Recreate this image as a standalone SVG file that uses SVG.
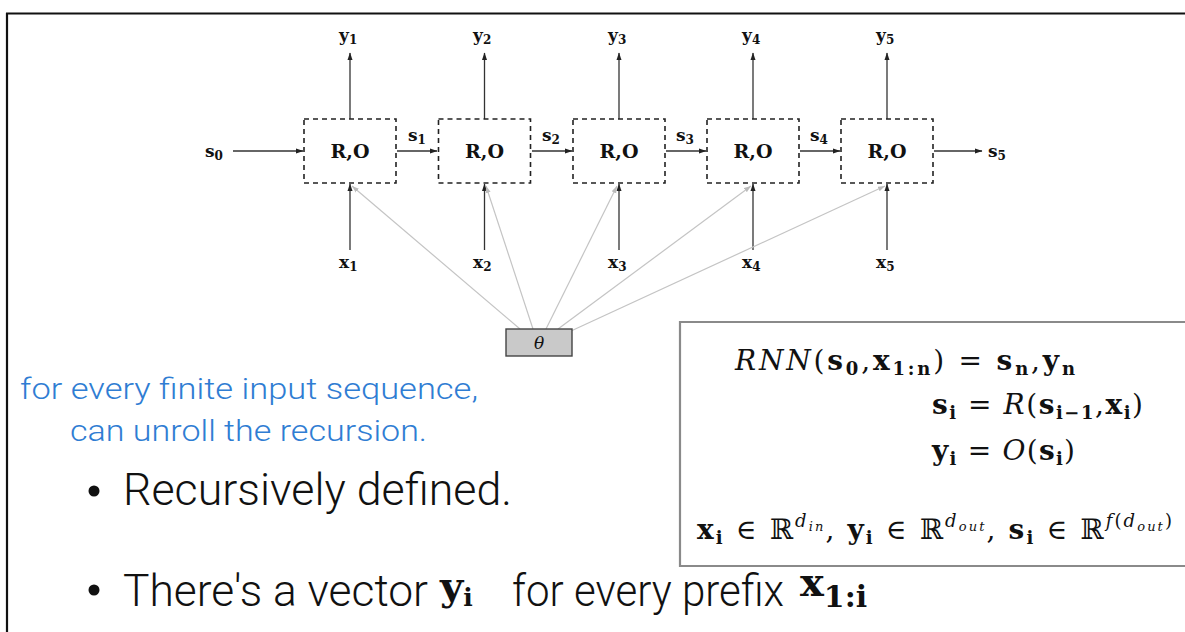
<svg xmlns="http://www.w3.org/2000/svg" width="1185" height="632" viewBox="0 0 1185 632">
<defs>
<marker id="ah" markerWidth="8" markerHeight="6" refX="7" refY="3" orient="auto" markerUnits="userSpaceOnUse">
<path d="M0,0.5 L7.5,3 L0,5.5 z" fill="#222"/>
</marker>
<marker id="ahg" markerWidth="8" markerHeight="6" refX="7" refY="3" orient="auto" markerUnits="userSpaceOnUse">
<path d="M0,0.5 L7,3 L0,5.5 z" fill="#bbb"/>
</marker>
<style>
.node rect.cell{fill:none;stroke:#222;stroke-width:1.6;stroke-dasharray:5,4}
.lbl{font-family:"DejaVu Serif","Liberation Serif",serif;font-weight:bold;fill:#111}
.ro{font-size:19px;text-anchor:middle}
.var{font-size:17px}
.sub{font-size:12px}
.arr{stroke:#333;stroke-width:1.3;fill:none;marker-end:url(#ah)}
.garr{stroke:#c4c4c4;stroke-width:1.2;fill:none;marker-end:url(#ahg)}
.math{font-family:"DejaVu Serif","Liberation Serif",serif;fill:#111}
.b{font-weight:bold}
.it{font-style:italic}
.sans{font-family:Roboto,"Liberation Sans",Arial,sans-serif;font-weight:300}
.blue{fill:#2f7dd3;font-size:30px}
.bul{fill:#111;font-size:44px}
</style>
</defs>
<rect width="1185" height="632" fill="#fff"/>
<!-- outer frame -->
<path d="M6,13.5 H1185 M7,13 V632" stroke="#111" stroke-width="2.2" fill="none"/>

<!-- connectors -->
<g id="connectors">
<line class="arr" x1="233" y1="151" x2="303" y2="151"/>
<line class="arr" x1="397" y1="151" x2="437" y2="151"/>
<line class="arr" x1="532" y1="151" x2="572" y2="151"/>
<line class="arr" x1="666" y1="151" x2="706" y2="151"/>
<line class="arr" x1="800" y1="151" x2="840" y2="151"/>
<line class="arr" x1="934" y1="151" x2="982" y2="151"/>
<line class="arr" x1="350" y1="119" x2="350" y2="53"/>
<line class="arr" x1="484.5" y1="119" x2="484.5" y2="53"/>
<line class="arr" x1="619" y1="119" x2="619" y2="53"/>
<line class="arr" x1="753" y1="119" x2="753" y2="53"/>
<line class="arr" x1="887" y1="119" x2="887" y2="53"/>
<line class="arr" x1="350" y1="250" x2="350" y2="184"/>
<line class="arr" x1="484.5" y1="250" x2="484.5" y2="184"/>
<line class="arr" x1="619" y1="250" x2="619" y2="184"/>
<line class="arr" x1="753" y1="250" x2="753" y2="184"/>
<line class="arr" x1="887" y1="250" x2="887" y2="184"/>
<line class="garr" x1="520" y1="329" x2="352" y2="186"/>
<line class="garr" x1="533" y1="329" x2="486" y2="186"/>
<line class="garr" x1="546" y1="329" x2="617" y2="186"/>
<line class="garr" x1="558" y1="329" x2="751" y2="186"/>
<line class="garr" x1="571" y1="331" x2="885" y2="186"/>
</g>

<!-- nodes -->
<g id="node1" class="node"><rect class="cell" x="304" y="119" width="92" height="64"/><text class="lbl ro" x="350" y="158">R,O</text></g>
<g id="node2" class="node"><rect class="cell" x="438.5" y="119" width="92" height="64"/><text class="lbl ro" x="484.5" y="158">R,O</text></g>
<g id="node3" class="node"><rect class="cell" x="573" y="119" width="92" height="64"/><text class="lbl ro" x="619" y="158">R,O</text></g>
<g id="node4" class="node"><rect class="cell" x="707" y="119" width="92" height="64"/><text class="lbl ro" x="753" y="158">R,O</text></g>
<g id="node5" class="node"><rect class="cell" x="841" y="119" width="92" height="64"/><text class="lbl ro" x="887" y="158">R,O</text></g>

<g id="theta"><rect x="506" y="329" width="66" height="27" fill="#c9c9c9" stroke="#444" stroke-width="1.4"/><text class="math it" x="539" y="349" font-size="17" text-anchor="middle">θ</text></g>

<!-- variable labels -->
<g id="state-labels">
<text class="lbl var" x="205" y="157">s<tspan class="sub" dy="3">0</tspan></text>
<text class="lbl var" x="408" y="141">s<tspan class="sub" dy="3">1</tspan></text>
<text class="lbl var" x="542" y="141">s<tspan class="sub" dy="3">2</tspan></text>
<text class="lbl var" x="676" y="141">s<tspan class="sub" dy="3">3</tspan></text>
<text class="lbl var" x="810" y="141">s<tspan class="sub" dy="3">4</tspan></text>
<text class="lbl var" x="988" y="157">s<tspan class="sub" dy="3">5</tspan></text>
</g>
<g id="output-labels">
<text class="lbl var" x="339" y="41">y<tspan class="sub" dy="3">1</tspan></text>
<text class="lbl var" x="473" y="41">y<tspan class="sub" dy="3">2</tspan></text>
<text class="lbl var" x="608" y="41">y<tspan class="sub" dy="3">3</tspan></text>
<text class="lbl var" x="742" y="41">y<tspan class="sub" dy="3">4</tspan></text>
<text class="lbl var" x="876" y="41">y<tspan class="sub" dy="3">5</tspan></text>
</g>
<g id="input-labels">
<text class="lbl var" x="339" y="268">x<tspan class="sub" dy="3">1</tspan></text>
<text class="lbl var" x="473" y="268">x<tspan class="sub" dy="3">2</tspan></text>
<text class="lbl var" x="608" y="268">x<tspan class="sub" dy="3">3</tspan></text>
<text class="lbl var" x="742" y="268">x<tspan class="sub" dy="3">4</tspan></text>
<text class="lbl var" x="876" y="268">x<tspan class="sub" dy="3">5</tspan></text>
</g>

<!-- formula box -->
<g id="formula">
<path d="M1185,322 H680 V566 H1185" fill="none" stroke="#8a8a8a" stroke-width="2.2"/>
<text class="math" x="735" y="370" font-size="28" textLength="340" lengthAdjust="spacing"><tspan class="it">RNN</tspan>(<tspan class="b">s</tspan><tspan class="b" font-size="18" dy="5">0</tspan><tspan dy="-5">,</tspan><tspan class="b">x</tspan><tspan class="b" font-size="18" dy="5">1:n</tspan><tspan dy="-5">) = </tspan><tspan class="b">s</tspan><tspan class="b" font-size="18" dy="5">n</tspan><tspan dy="-5">,</tspan><tspan class="b">y</tspan><tspan class="b" font-size="18" dy="5">n</tspan></text>
<text class="math" x="932" y="414" font-size="28" textLength="211" lengthAdjust="spacing"><tspan class="b">s</tspan><tspan class="b" font-size="18" dy="5">i</tspan><tspan dy="-5"> = </tspan><tspan class="it">R</tspan>(<tspan class="b">s</tspan><tspan class="b" font-size="18" dy="5">i−1</tspan><tspan dy="-5">,</tspan><tspan class="b">x</tspan><tspan class="b" font-size="18" dy="5">i</tspan><tspan dy="-5">)</tspan></text>
<text class="math" x="932" y="460" font-size="28" textLength="143" lengthAdjust="spacing"><tspan class="b">y</tspan><tspan class="b" font-size="18" dy="5">i</tspan><tspan dy="-5"> = </tspan><tspan class="it">O</tspan>(<tspan class="b">s</tspan><tspan class="b" font-size="18" dy="5">i</tspan><tspan dy="-5">)</tspan></text>
<text class="math" x="697" y="539" font-size="28" textLength="475" lengthAdjust="spacing"><tspan class="b">x</tspan><tspan class="b" font-size="18" dy="5">i</tspan><tspan dy="-5"> ∈ ℝ</tspan><tspan class="it" font-size="18" dy="-12">d</tspan><tspan class="it" font-size="13" dy="4">in</tspan><tspan dy="8">, </tspan><tspan class="b">y</tspan><tspan class="b" font-size="18" dy="5">i</tspan><tspan dy="-5"> ∈ ℝ</tspan><tspan class="it" font-size="18" dy="-12">d</tspan><tspan class="it" font-size="13" dy="4">out</tspan><tspan dy="8">, </tspan><tspan class="b">s</tspan><tspan class="b" font-size="18" dy="5">i</tspan><tspan dy="-5"> ∈ ℝ</tspan><tspan class="it" font-size="18" dy="-12">f</tspan><tspan font-size="18">(</tspan><tspan class="it" font-size="18">d</tspan><tspan class="it" font-size="13" dy="4">out</tspan><tspan font-size="18" dy="-4">)</tspan></text>
</g>

<!-- slide text -->
<g id="slide-text">
<text class="sans blue" x="20" y="399" textLength="458" lengthAdjust="spacingAndGlyphs">for every finite input sequence,</text>
<text class="sans blue" x="70" y="441" textLength="357" lengthAdjust="spacingAndGlyphs">can unroll the recursion.</text>
<circle cx="94" cy="491" r="5.5" fill="#111"/>
<text class="sans bul" x="123" y="505" textLength="389" lengthAdjust="spacingAndGlyphs">Recursively defined.</text>
<circle cx="94" cy="590" r="5.5" fill="#111"/>
<text class="sans bul" x="123" y="606" textLength="305" lengthAdjust="spacingAndGlyphs">There's a vector</text>
<text class="math b" x="440" y="600" font-size="40">y<tspan font-size="25" dy="6">i</tspan></text>
<text class="sans bul" x="512" y="606" textLength="272" lengthAdjust="spacingAndGlyphs">for every prefix</text>
<text class="math b" x="800" y="596" font-size="40">x<tspan font-size="30" dy="11">1:i</tspan></text>
</g>
</svg>
